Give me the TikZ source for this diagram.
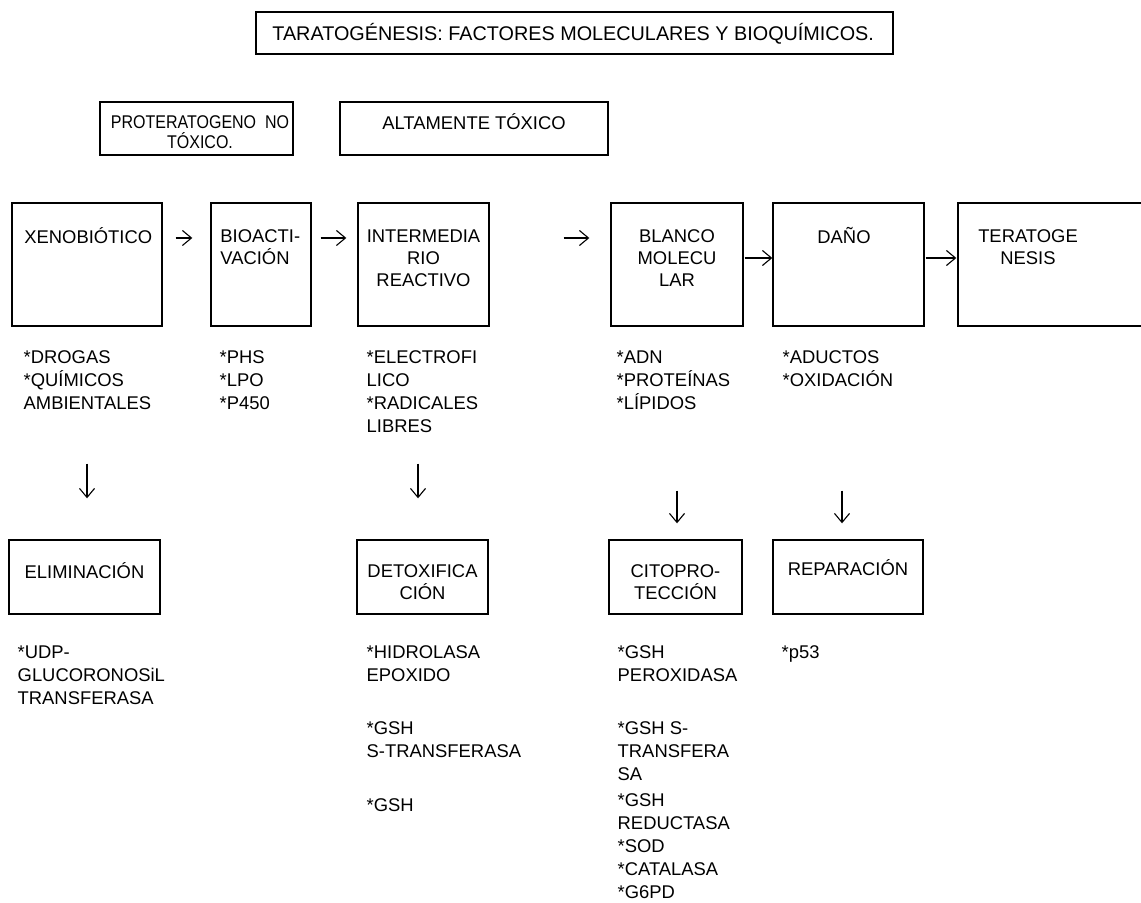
\documentclass[tikz,border=0pt]{standalone}
\usepackage{fontspec}
\setmainfont{Liberation Sans}
\newfontfamily\angosta[FakeStretch=0.87]{Liberation Sans}
\usetikzlibrary{positioning}
\usetikzlibrary{arrows.meta}
\tikzset{>={Straight Barb[length=4.5pt,width=7.5pt]}}
\tikzset{caja/.style={draw, line width=0.7pt, inner sep=0pt}}
\tikzset{txt/.style={inner sep=0pt, align=center, font=\fontsize{9.2}{11}\selectfont}}
\tikzset{lista/.style={inner sep=0pt, align=left, font=\fontsize{9.2}{11.5}\selectfont}}
\tikzset{flecha/.style={->, line width=0.55pt}}

\begin{document}
\begin{tikzpicture}[x=0.5pt,y=-0.5pt]
    \useasboundingbox (0,0) rectangle (1141,903);

    \node[caja, line width=1pt, minimum width=318.5pt, minimum height=21pt] (tit) at (574.5,33) {};
    \node[txt, anchor=west, font=\fontsize{9.9}{12}\selectfont] (tittxt) at (272,34) {TARATOGÉNESIS: FACTORES MOLECULARES Y BIOQUÍMICOS.};

    \node[caja, minimum width=96.5pt, minimum height=26.5pt] (pro) at (196.5,128.5) {};
    \node[txt, font=\angosta\fontsize{9.2}{10}\selectfont] (protxt) at (200,132) {PROTERATOGENO\ \ NO\\TÓXICO.};
    \node[caja, minimum width=134pt, minimum height=26.5pt] (alt) at (474,128.5) {};
    \node[txt] (alttxt) at (474,122) {ALTAMENTE TÓXICO};

    \node[caja, minimum width=75pt, minimum height=61.5pt] (xeno) at (87,264.5) {};
    \node[caja, minimum width=50pt, minimum height=61.5pt] (bio) at (261,264.5) {};
    \node[caja, minimum width=65.5pt, minimum height=61.5pt] (inter) at (423.5,264.5) {};
    \node[caja, minimum width=66pt, minimum height=61.5pt] (blanco) at (677,264.5) {};
    \node[caja, minimum width=75.5pt, minimum height=61.5pt] (dano) at (848.5,264.5) {};
    \node[caja, minimum width=101pt, minimum height=61.5pt] (terat) at (1059,264.5) {};

    \node[txt, anchor=west] (xenotxt) at (24,236) {XENOBIÓTICO};
    \node[txt, align=left, anchor=west] (biotxt) at (220,247) {BIOACTI-\\VACIÓN};
    \node[txt] (intertxt) at (423.5,258) {INTERMEDIA\\RIO\\REACTIVO};
    \node[txt] (blancotxt) at (677,258) {BLANCO\\MOLECU\\LAR};
    \node[txt] (danotxt) at (844,236) {DAÑO};
    \node[txt] (terattxt) at (1028,247) {TERATOGE\\NESIS};

    \draw[flecha, shorten <=6.5pt, shorten >=9pt] ([yshift=13.25pt]xeno.east) -- ([yshift=13.25pt]bio.west);
    \draw[flecha, shorten <=4.5pt, shorten >=5.5pt] ([yshift=13.25pt]bio.east) -- ([yshift=13.25pt]inter.west);
    \draw[flecha, shorten <=37pt, shorten >=10.5pt] ([yshift=13.25pt]inter.east) -- ([yshift=13.25pt]blanco.west);
    \draw[flecha, shorten <=0.5pt] ([yshift=3.25pt]blanco.east) -- ([yshift=3.25pt]dano.west);
    \draw[flecha, shorten <=0.5pt, shorten >=0.5pt] ([yshift=3.25pt]dano.east) -- ([yshift=3.25pt]terat.west);

    \node[lista, below right=12pt and 6pt of xeno.south west] (xenolista) {*DROGAS\\*QUÍMICOS\\AMBIENTALES};
    \node[lista, below right=12pt and 4.5pt of bio.south west] (biolista) {*PHS\\*LPO\\*P450};
    \node[lista, below right=12pt and 4.5pt of inter.south west] (interlista) {*ELECTROFI\\LICO\\*RADICALES\\LIBRES};
    \node[lista, below right=12pt and 3pt of blanco.south west] (blancolista) {*ADN\\*PROTEÍNAS\\*LÍPIDOS};
    \node[lista, below right=12pt and 5pt of dano.south west] (danolista) {*ADUCTOS\\*OXIDACIÓN};

    \node[caja, minimum width=75.5pt, minimum height=37pt] (elim) at (84.5,577) {};
    \node[caja, minimum width=65.5pt, minimum height=37pt] (detox) at (422.5,577) {};
    \node[caja, minimum width=66.5pt, minimum height=37pt] (cito) at (675.5,577) {};
    \node[caja, minimum width=75pt, minimum height=37pt] (repar) at (848,577) {};

    \node[txt] (elimtxt) at (84.5,571) {ELIMINACIÓN};
    \node[txt] (detoxtxt) at (422.5,582) {DETOXIFICA\\CIÓN};
    \node[txt] (citotxt) at (675.5,582) {CITOPRO-\\TECCIÓN};
    \node[txt] (repartxt) at (848,568) {REPARACIÓN};

    \draw[flecha, shorten <=68.5pt, shorten >=20.5pt] (xeno.south) -- (xeno.south |- elim.north);
    \draw[flecha, shorten <=68.5pt, shorten >=20.5pt] ([xshift=-2.75pt]inter.south) -- ([xshift=-2.75pt]inter.south |- detox.north);
    \draw[flecha, shorten <=82pt, shorten >=8pt] (blanco.south) -- (blanco.south |- cito.north);
    \draw[flecha, shorten <=82pt, shorten >=8pt] ([xshift=-3.25pt]dano.south) -- ([xshift=-3.25pt]dano.south |- repar.north);

    \node[lista, below right=15.5pt and 4.5pt of elim.south west] (elimlista) {*UDP-\\GLUCORONOSiL\\TRANSFERASA};
    \node[lista, below right=15.5pt and 5pt of detox.south west] (detoxlista) {*HIDROLASA\\EPOXIDO\\[15pt]*GSH\\S-TRANSFERASA\\[15.5pt]*GSH};
    \node[lista, below right=15.5pt and 4.5pt of cito.south west] (citolista) {*GSH\\PEROXIDASA\\[15pt]*GSH S-\\TRANSFERA\\SA\\[1.5pt]*GSH\\REDUCTASA\\*SOD\\*CATALASA\\*G6PD};
    \node[lista, below right=15.5pt and 4.5pt of repar.south west] (reparlista) {*p53};

\end{tikzpicture}
\end{document}
